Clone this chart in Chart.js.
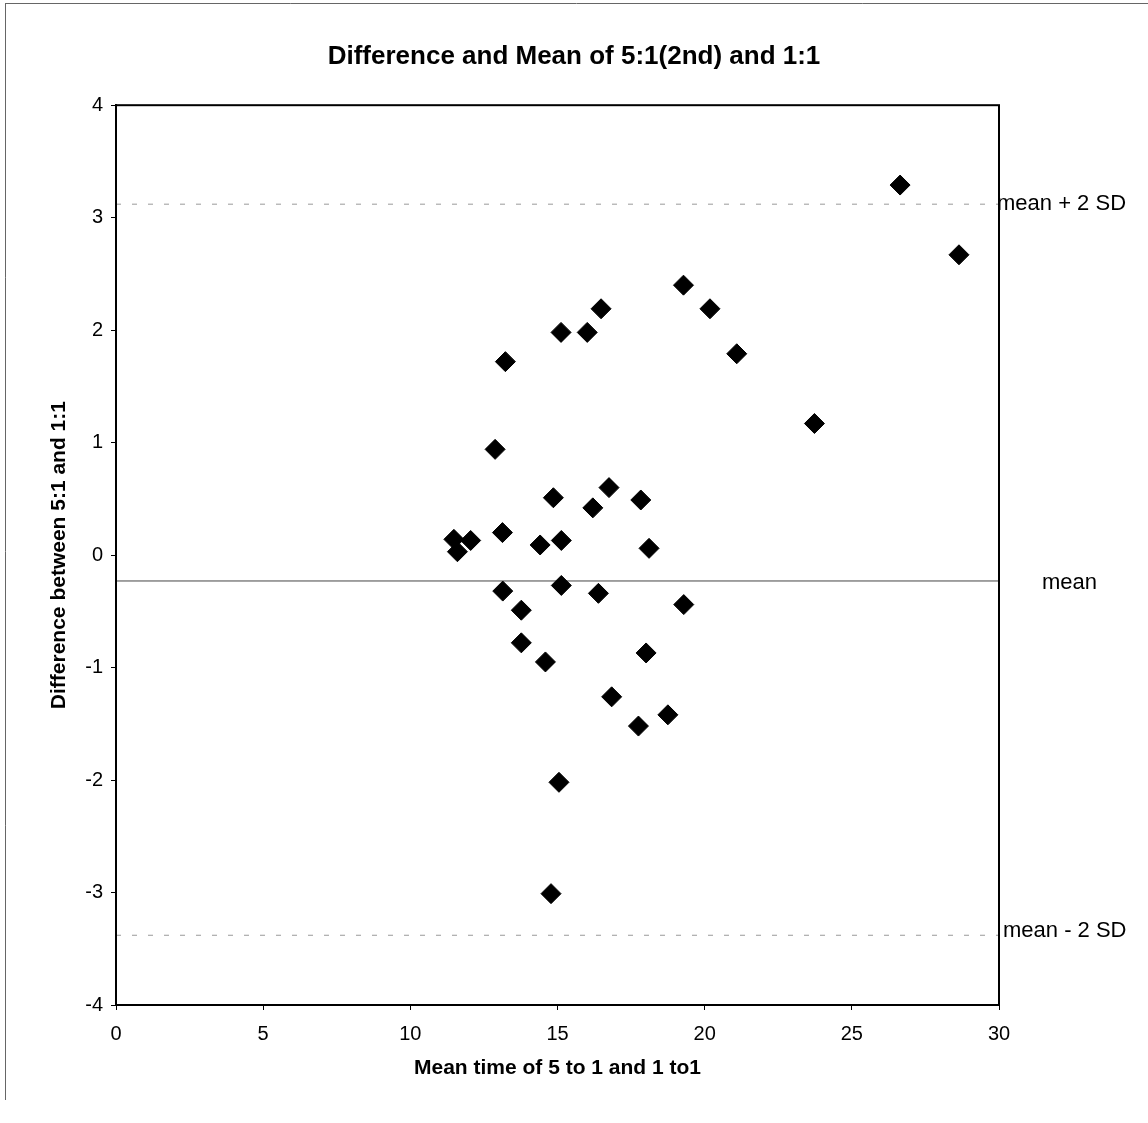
<!DOCTYPE html>
<html>
<head>
<meta charset="utf-8">
<script src="https://cdn.jsdelivr.net/npm/chart.js@4/dist/chart.umd.min.js"></script>
<style>
  html, body { margin: 0; padding: 0; background: #fff; }
  #wrap { position: relative; width: 1148px; height: 1123px; }
</style>
</head>
<body>
<div id="wrap"><canvas id="c"></canvas></div>
<script>
// ---- data ----
const meanTime = [26.64, 28.64, 19.28, 20.18, 16.48, 15.12, 16.01, 21.09, 13.23, 23.73,
                  12.88, 16.75, 14.86, 17.83, 16.20, 11.48, 12.05, 11.60, 13.13, 14.41,
                  15.13, 18.11, 13.14, 15.13, 16.39, 19.29, 13.77, 13.77, 14.59, 18.01,
                  16.84, 18.75, 17.75, 15.05, 14.78];
const difference = [3.29, 2.67, 2.40, 2.19, 2.19, 1.98, 1.98, 1.79, 1.72, 1.17,
                    0.94, 0.60, 0.51, 0.49, 0.42, 0.14, 0.13, 0.03, 0.20, 0.09,
                    0.13, 0.06, -0.32, -0.27, -0.34, -0.44, -0.49, -0.78, -0.95, -0.87,
                    -1.26, -1.42, -1.52, -2.02, -3.01];
const meanDiff = -0.23;
const upperLimit = 3.12;
const lowerLimit = -3.38;
const xRange = [0, 30];
const xTickValues = [0, 5, 10, 15, 20, 25, 30];
const yTickValues = [-4, -3, -2, -1, 0, 1, 2, 3, 4];
const refLabels = ['mean + 2 SD', 'mean', 'mean - 2 SD'];
const titleText = 'Difference and Mean of 5:1(2nd) and 1:1';
const xTitle = 'Mean time of 5 to 1 and 1 to1';
const yTitle = 'Difference between 5:1 and 1:1';

const FONT = "'Liberation Sans', Arial, Helvetica, sans-serif";

const points = meanTime.map((x, i) => ({ x: x, y: difference[i] }));
const hLine = v => xRange.map(x => ({ x: x, y: v }));

const framePlugin = {
  id: 'frameAndLabels',
  beforeDraw(chart) {
    const ctx = chart.ctx;
    ctx.save();
    ctx.strokeStyle = '#666';
    ctx.lineWidth = 1;
    ctx.beginPath();
    ctx.moveTo(5.5, 3); ctx.lineTo(5.5, 1100);
    ctx.moveTo(5, 3.5); ctx.lineTo(1148, 3.5);
    ctx.stroke();
    ctx.restore();
  },
  afterDraw(chart) {
    const ctx = chart.ctx;
    const a = chart.chartArea;
    const ys = chart.scales.y;
    ctx.save();
    ctx.strokeStyle = '#000';
    ctx.lineWidth = 2;
    ctx.strokeRect(a.left, a.top, a.right - a.left, a.bottom - a.top);
    ctx.fillStyle = '#000';
    ctx.font = '22px ' + FONT;
    ctx.textBaseline = 'middle';
    ctx.textAlign = 'left';
    const vals = [upperLimit, meanDiff, lowerLimit];
    const dx = [-2, 43, 4];
    const dy = [0, 2, -4];
    refLabels.forEach((t, i) => {
      ctx.fillText(t, a.right + dx[i], ys.getPixelForValue(vals[i]) + dy[i]);
    });
    ctx.restore();
  }
};

new Chart(document.getElementById('c'), {
  type: 'scatter',
  data: {
    datasets: [
      {
        label: 'points',
        data: points,
        pointStyle: 'rectRot',
        pointRadius: 10,
        pointHoverRadius: 10,
        backgroundColor: '#000',
        borderColor: '#000',
        borderWidth: 1,
        order: 0
      },
      {
        label: 'mean',
        type: 'line',
        data: hLine(meanDiff),
        borderColor: '#444',
        borderWidth: 1,
        pointRadius: 0,
        fill: false,
        order: 1
      },
      {
        label: 'upper',
        type: 'line',
        data: hLine(upperLimit),
        borderColor: '#999',
        borderWidth: 1,
        borderDash: [5, 11],
        pointRadius: 0,
        fill: false,
        order: 1
      },
      {
        label: 'lower',
        type: 'line',
        data: hLine(lowerLimit),
        borderColor: '#999',
        borderWidth: 1,
        borderDash: [5, 11],
        pointRadius: 0,
        fill: false,
        order: 1
      }
    ]
  },
  options: {
    responsive: true,
    maintainAspectRatio: false,
    animation: false,
    layout: { padding: 0 },
    plugins: {
      legend: { display: false },
      tooltip: { enabled: false },
      title: {
        display: true,
        text: titleText,
        color: '#000',
        font: { family: FONT, size: 26, weight: 'bold' },
        padding: { top: 41, bottom: 33 }
      }
    },
    scales: {
      x: {
        type: 'linear',
        min: xRange[0],
        max: xRange[1],
        afterBuildTicks: s => { s.ticks = xTickValues.map(v => ({ value: v })); },
        afterFit: s => { s.height = 118; },
        grid: { drawOnChartArea: false, drawTicks: true, tickLength: 5, color: '#000', tickWidth: 1 },
        border: { display: true, color: '#000', width: 2 },
        ticks: { color: '#000', padding: 12, font: { family: FONT, size: 20 } },
        title: {
          display: true, text: xTitle, color: '#000',
          font: { family: FONT, size: 21, weight: 'bold' },
          padding: { top: 0, bottom: 42 }
        }
      },
      y: {
        type: 'linear',
        min: -4,
        max: 4,
        afterBuildTicks: s => { s.ticks = yTickValues.map(v => ({ value: v })); },
        afterFit: s => { s.width = 116; },
        grid: { drawOnChartArea: false, drawTicks: true, tickLength: 5, color: '#000', tickWidth: 1 },
        border: { display: true, color: '#000', width: 2 },
        ticks: { color: '#000', padding: 8, font: { family: FONT, size: 20 } },
        title: {
          display: true, text: yTitle, color: '#000',
          font: { family: FONT, size: 21, weight: 'bold' },
          padding: { top: 47, bottom: 0 }
        }
      },
      yRight: {
        type: 'linear',
        position: 'right',
        min: -4,
        max: 4,
        display: true,
        afterFit: s => { s.width = 149; },
        grid: { display: false, drawTicks: false },
        border: { display: false },
        ticks: { display: false }
      }
    }
  },
  plugins: [framePlugin]
});
</script>
</body>
</html>
